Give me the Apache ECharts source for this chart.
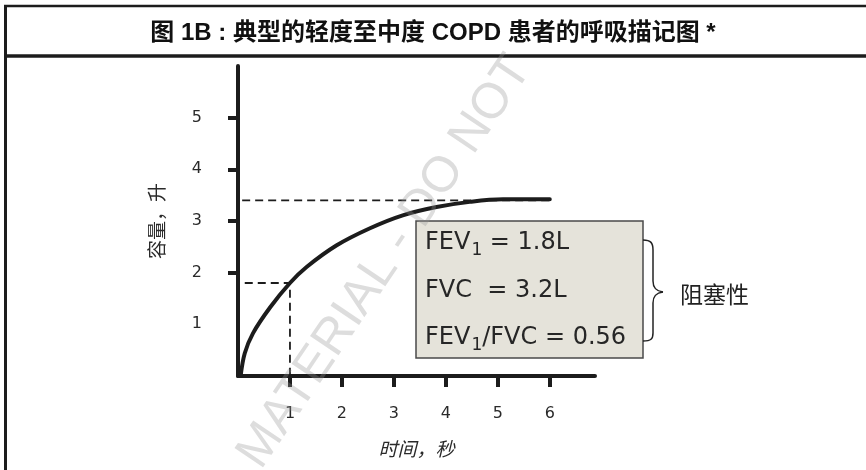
<!DOCTYPE html>
<html>
<head>
<meta charset="utf-8">
<script src="https://cdn.jsdelivr.net/npm/echarts@6/dist/echarts.min.js"></script>
<style>
  html, body { margin: 0; padding: 0; background: #fff; }
  #chart { width: 866px; height: 470px; }
</style>
</head>
<body>
<div id="chart"></div>
<script>
// spirogram: time in seconds, volume in litres
var timeSec = [0.05, 0.13, 0.29, 0.62, 1.0, 1.32, 1.9, 2.54, 3.17, 3.82, 4.46, 5.1, 6.0];
var volumeL = [0, 0.44, 0.83, 1.33, 1.8, 2.11, 2.53, 2.86, 3.11, 3.27, 3.37, 3.42, 3.42];

var xTicks = [1, 2, 3, 4, 5, 6];
var yTicks = [2, 3, 4, 5];
var yLabels = [1, 2, 3, 4, 5];

// dashed guide lines (FVC level, FEV1 at 1 s)
var fvcGuide = [[0.08, 3.4], [6, 3.4]];
var fev1Guide = [[0.13, 1.8], [1, 1.8], [1, 0]];

var boxLines = [
  '{t|FEV}{s|1}{t| = 1.8L}',
  '{t|FVC  = 3.2L}',
  '{t|FEV}{s|1}{t|/FVC = 0.56}'
];

var latin = '"DejaVu Sans", "Noto Sans CJK SC", sans-serif';
var cjk = '"Noto Sans CJK SC", "DejaVu Sans", sans-serif';
var ink = '#1c1c1c';

var curve = timeSec.map(function (t, i) { return [t, volumeL[i]]; });

var chart = echarts.init(document.getElementById('chart'));

var boxText = boxLines.map(function (txt, i) {
  return {
    type: 'text',
    z: 20,
    x: 425,
    y: 243 + i * 47.5,
    style: {
      text: txt,
      verticalAlign: 'middle',
      rich: {
        t: { fontSize: 24, fontFamily: latin, fill: '#262626' },
        s: { fontSize: 17, fontFamily: latin, fill: '#262626', padding: [16, 0, 0, 1] }
      }
    }
  };
});

// curly brace beside the box
var braceStyle = { fill: 'none', stroke: '#222', lineWidth: 1.5 };
var brace = [
  { type: 'bezierCurve', z: 10, shape: { x1: 643, y1: 240, cpx1: 651, cpy1: 240, cpx2: 653, cpy2: 243, x2: 653, y2: 250 }, style: braceStyle },
  { type: 'line', z: 10, shape: { x1: 653, y1: 250, x2: 653, y2: 281 }, style: braceStyle },
  { type: 'bezierCurve', z: 10, shape: { x1: 653, y1: 281, cpx1: 653, cpy1: 288, cpx2: 656, cpy2: 291, x2: 663, y2: 292 }, style: braceStyle },
  { type: 'bezierCurve', z: 10, shape: { x1: 663, y1: 292, cpx1: 656, cpy1: 293, cpx2: 653, cpy2: 296, x2: 653, y2: 303 }, style: braceStyle },
  { type: 'line', z: 10, shape: { x1: 653, y1: 303, x2: 653, y2: 333 }, style: braceStyle },
  { type: 'bezierCurve', z: 10, shape: { x1: 653, y1: 333, cpx1: 653, cpy1: 339, cpx2: 651, cpy2: 341, x2: 643, y2: 341 }, style: braceStyle }
];

chart.setOption({
  animation: false,
  backgroundColor: '#fff',
  title: {
    text: '图 1B : 典型的轻度至中度 COPD 患者的呼吸描记图 *',
    left: 'center',
    top: 16,
    textStyle: {
      fontSize: 24,
      fontWeight: 'bold',
      color: '#111',
      fontFamily: '"Liberation Sans", "Noto Sans CJK SC", sans-serif'
    }
  },
  grid: { left: 238, right: 271, top: 66, bottom: 94, outerBoundsMode: 'none' },
  xAxis: {
    type: 'value',
    min: 0,
    max: 6.87,
    interval: 1,
    splitLine: { show: false },
    axisLine: { lineStyle: { color: ink, width: 4 } },
    axisTick: { customValues: xTicks, length: 11, lineStyle: { color: ink, width: 4 } },
    axisLabel: { customValues: xTicks, margin: 30, fontSize: 16, color: '#2a2a2a', fontFamily: latin },
    name: '时间，秒',
    nameLocation: 'middle',
    nameGap: 63,
    nameTextStyle: { fontSize: 19, fontStyle: 'italic', color: '#2a2a2a', fontFamily: cjk }
  },
  yAxis: {
    type: 'value',
    min: 0,
    max: 6,
    interval: 1,
    splitLine: { show: false },
    axisLine: { lineStyle: { color: ink, width: 4 } },
    axisTick: { customValues: yTicks, length: 10, lineStyle: { color: ink, width: 4 } },
    axisLabel: { customValues: yLabels, margin: 36, fontSize: 16, color: '#2a2a2a', fontFamily: latin },
    name: '容量，升',
    nameLocation: 'middle',
    nameGap: 72,
    nameRotate: 90,
    nameTextStyle: { fontSize: 19, color: '#2a2a2a', fontFamily: cjk }
  },
  series: [
    {
      type: 'line',
      data: fvcGuide,
      showSymbol: false,
      lineStyle: { color: ink, width: 1.8, type: [8, 5] },
      z: 1
    },
    {
      type: 'line',
      data: fev1Guide,
      showSymbol: false,
      lineStyle: { color: ink, width: 1.8, type: [8, 5] },
      z: 1
    },
    {
      type: 'line',
      data: curve,
      smooth: 0.35,
      showSymbol: false,
      lineStyle: { color: ink, width: 4, cap: 'round' },
      z: 3
    }
  ],
  graphic: [
    // frame
    { type: 'line', shape: { x1: 4, y1: 6, x2: 866, y2: 6 }, style: { stroke: ink, lineWidth: 2.5 } },
    { type: 'line', shape: { x1: 4, y1: 56, x2: 866, y2: 56 }, style: { stroke: ink, lineWidth: 3.5 } },
    { type: 'line', shape: { x1: 5.5, y1: 5, x2: 5.5, y2: 470 }, style: { stroke: ink, lineWidth: 3 } },
    // result box
    {
      type: 'rect',
      z: 10,
      shape: { x: 416, y: 221, width: 227, height: 137 },
      style: { fill: '#e5e3da', stroke: '#4a4a4a', lineWidth: 1.5 }
    }
  ].concat(boxText).concat(brace).concat([
    {
      type: 'text',
      z: 10,
      x: 680,
      y: 294,
      style: { text: '阻塞性', font: '23px "Noto Sans CJK SC"', fill: '#222', verticalAlign: 'middle' }
    },
    // watermark
    {
      type: 'text',
      z: 30,
      x: 385,
      y: 262,
      rotation: 56 * Math.PI / 180,
      style: {
        text: 'MATERIAL - DO NOT',
        font: '50px "Liberation Sans"',
        fill: 'rgba(150,150,150,0.32)',
        align: 'center',
        verticalAlign: 'middle'
      }
    }
  ])
});
</script>
</body>
</html>
